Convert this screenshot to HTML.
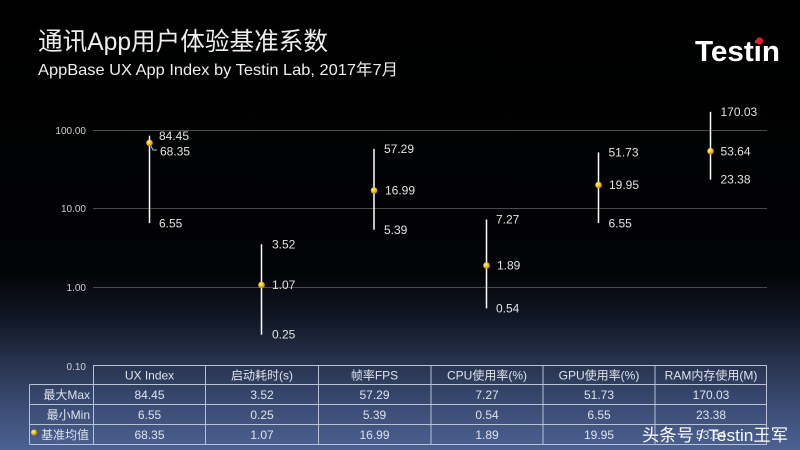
<!DOCTYPE html>
<html><head><meta charset="utf-8"><style>
html,body{margin:0;padding:0;background:#000;}
svg{display:block;}
</style></head><body>
<svg width="800" height="450" viewBox="0 0 800 450" xmlns="http://www.w3.org/2000/svg" font-family="'Liberation Sans','Noto Sans CJK SC',sans-serif">
<defs>
<linearGradient id="bg" x1="0" y1="0" x2="0" y2="1">
<stop offset="0" stop-color="#000"/>
<stop offset="0.60" stop-color="#020305"/>
<stop offset="0.70" stop-color="#0f1522"/>
<stop offset="0.81" stop-color="#28344f"/>
<stop offset="0.90" stop-color="#3a4b73"/>
<stop offset="1" stop-color="#4c6192"/>
</linearGradient>
<radialGradient id="dot" cx="0.4" cy="0.35" r="0.65">
<stop offset="0" stop-color="#fff3a0"/>
<stop offset="0.5" stop-color="#f5c518"/>
<stop offset="1" stop-color="#c08a00"/>
</radialGradient>
</defs>
<rect width="800" height="450" fill="url(#bg)"/>

<!-- title -->
<text x="38" y="50" font-size="25" fill="#eeeeee" textLength="290" lengthAdjust="spacingAndGlyphs">通讯App用户体验基准系数</text>
<text x="38" y="75" font-size="16" fill="#eeeeee" textLength="360" lengthAdjust="spacingAndGlyphs">AppBase UX App Index by Testin Lab, 2017年7月</text>

<!-- logo -->
<text x="695" y="61" font-size="29" font-weight="bold" fill="#ffffff" textLength="85" lengthAdjust="spacingAndGlyphs">Testin</text>
<circle cx="759.5" cy="41" r="3.6" fill="#e01e2a"/>

<!-- gridlines -->
<g stroke="#4a4a4a" stroke-width="1">
<line x1="93" y1="130.5" x2="767" y2="130.5"/>
<line x1="93" y1="208.5" x2="767" y2="208.5"/>
<line x1="93" y1="287.5" x2="767" y2="287.5"/>
</g>
<g font-size="10" fill="#d0d0d0" text-anchor="end">
<text x="86" y="134">100.00</text>
<text x="86" y="212">10.00</text>
<text x="86" y="291">1.00</text>
<text x="86" y="370">0.10</text>
</g>

<!-- series -->
<g stroke="#ffffff" stroke-width="1.5">
<line x1="149.5" y1="135.7" x2="149.5" y2="223.1"/>
<line x1="261.5" y1="244.3" x2="261.5" y2="334.7"/>
<line x1="374" y1="148.9" x2="374" y2="229.7"/>
<line x1="486.5" y1="219.5" x2="486.5" y2="308.4"/>
<line x1="598.5" y1="152.4" x2="598.5" y2="223.1"/>
<line x1="710.5" y1="111.8" x2="710.5" y2="179.6"/>
</g>
<polyline points="151,146 153,150 157,150" fill="none" stroke="#bbbbbb" stroke-width="1"/>
<g fill="url(#dot)">
<circle cx="149.5" cy="142.9" r="3.3"/>
<circle cx="261.5" cy="285" r="3.3"/>
<circle cx="374" cy="190.5" r="3.3"/>
<circle cx="486.5" cy="265.5" r="3.3"/>
<circle cx="598.5" cy="185" r="3.3"/>
<circle cx="710.5" cy="151.2" r="3.3"/>
</g>
<g font-size="12" fill="#e2e2e2">
<text x="159" y="140">84.45</text>
<text x="160" y="155.5">68.35</text>
<text x="159" y="227.5">6.55</text>

<text x="272" y="248.5">3.52</text>
<text x="272" y="289">1.07</text>
<text x="272" y="338.5">0.25</text>

<text x="384" y="153">57.29</text>
<text x="385" y="194.5">16.99</text>
<text x="384" y="234">5.39</text>

<text x="496" y="223.5">7.27</text>
<text x="497" y="269.5">1.89</text>
<text x="496" y="312.5">0.54</text>

<text x="608.5" y="156.5">51.73</text>
<text x="609" y="189">19.95</text>
<text x="608.5" y="227.5">6.55</text>

<text x="720.5" y="116">170.03</text>
<text x="720.5" y="155.5">53.64</text>
<text x="720.5" y="183.5">23.38</text>
</g>

<!-- table -->
<g stroke="#b9c1d3" stroke-width="1" fill="none">
<line x1="93" y1="365.5" x2="767" y2="365.5"/>
<line x1="29.5" y1="384.5" x2="767" y2="384.5"/>
<line x1="29.5" y1="404.5" x2="767" y2="404.5"/>
<line x1="29.5" y1="424.5" x2="767" y2="424.5"/>
<line x1="29.5" y1="444.5" x2="767" y2="444.5"/>
<line x1="29.5" y1="384.5" x2="29.5" y2="444.5"/>
<line x1="93.5" y1="365.5" x2="93.5" y2="444.5"/>
<line x1="205.5" y1="365.5" x2="205.5" y2="444.5"/>
<line x1="318.5" y1="365.5" x2="318.5" y2="444.5"/>
<line x1="431" y1="365.5" x2="431" y2="444.5"/>
<line x1="543" y1="365.5" x2="543" y2="444.5"/>
<line x1="655" y1="365.5" x2="655" y2="444.5"/>
<line x1="766.5" y1="365.5" x2="766.5" y2="444.5"/>
</g>
<g font-size="12" fill="#dfe3ec" text-anchor="middle">
<text x="149.5" y="379.5">UX Index</text>
<text x="262" y="379.5">启动耗时(s)</text>
<text x="374.5" y="379.5">帧率FPS</text>
<text x="487" y="379.5">CPU使用率(%)</text>
<text x="599" y="379.5">GPU使用率(%)</text>
<text x="711" y="379.5">RAM内存使用(M)</text>

<text x="149.5" y="399">84.45</text>
<text x="262" y="399">3.52</text>
<text x="374.5" y="399">57.29</text>
<text x="487" y="399">7.27</text>
<text x="599" y="399">51.73</text>
<text x="711" y="399">170.03</text>

<text x="149.5" y="419">6.55</text>
<text x="262" y="419">0.25</text>
<text x="374.5" y="419">5.39</text>
<text x="487" y="419">0.54</text>
<text x="599" y="419">6.55</text>
<text x="711" y="419">23.38</text>

<text x="149.5" y="439">68.35</text>
<text x="262" y="439">1.07</text>
<text x="374.5" y="439">16.99</text>
<text x="487" y="439">1.89</text>
<text x="599" y="439">19.95</text>
<text x="711" y="439">53.64</text>
</g>
<g font-size="12" fill="#dfe3ec" text-anchor="end">
<text x="90" y="399">最大Max</text>
<text x="90" y="419">最小Min</text>
<text x="89" y="439">基准均值</text>
</g>
<circle cx="34" cy="432.5" r="3" fill="url(#dot)"/>

<!-- watermark -->
<text x="642" y="441" font-size="17" fill="#ffffff" textLength="146" lengthAdjust="spacingAndGlyphs">头条号 / Testin王军</text>
</svg>
</body></html>
